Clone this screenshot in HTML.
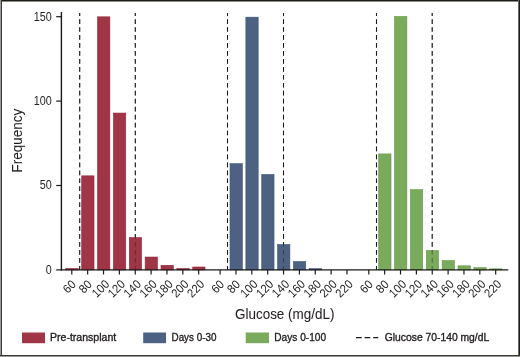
<!DOCTYPE html>
<html><head><meta charset="utf-8"><title>Glucose histogram</title>
<style>
html,body{margin:0;padding:0;background:#fff;}
svg{display:block;}
text{font-family:"Liberation Sans",sans-serif;fill:#231f20;stroke:#231f20;stroke-width:0.2px;}
.t{font-size:12.1px;stroke-width:0;}
.T{font-size:14.0px;stroke-width:0.05px;}
.L{font-size:10.7px;stroke-width:0.35px;}
</style></head><body>
<svg width="520" height="357" viewBox="0 0 520 357">
<rect x="0" y="0" width="520" height="357" fill="#fff"/>
<line x1="79.70" y1="12.9" x2="79.70" y2="269.90" stroke="#1c191a" stroke-width="1.05" stroke-dasharray="4.7 3.26" stroke-dashoffset="1.66" opacity="1"/>
<line x1="135.30" y1="12.9" x2="135.30" y2="269.90" stroke="#1c191a" stroke-width="1.05" stroke-dasharray="4.7 3.26" stroke-dashoffset="1.66" opacity="1"/>
<line x1="227.50" y1="12.9" x2="227.50" y2="269.90" stroke="#1c191a" stroke-width="1.05" stroke-dasharray="4.7 3.26" stroke-dashoffset="1.66" opacity="1"/>
<line x1="283.50" y1="12.9" x2="283.50" y2="269.90" stroke="#1c191a" stroke-width="1.05" stroke-dasharray="4.7 3.26" stroke-dashoffset="1.66" opacity="1"/>
<line x1="376.50" y1="12.9" x2="376.50" y2="269.90" stroke="#1c191a" stroke-width="1.05" stroke-dasharray="4.7 3.26" stroke-dashoffset="1.66" opacity="1"/>
<line x1="432.20" y1="12.9" x2="432.20" y2="269.90" stroke="#1c191a" stroke-width="1.05" stroke-dasharray="4.7 3.26" stroke-dashoffset="1.66" opacity="1"/>
<rect x="65.85" y="268.51" width="12.30" height="1.39" fill="#A03545" stroke="#93263a" stroke-width="0.6"/>
<rect x="81.71" y="175.84" width="12.30" height="94.06" fill="#A03545" stroke="#93263a" stroke-width="0.6"/>
<rect x="97.57" y="16.83" width="12.30" height="253.07" fill="#A03545" stroke="#93263a" stroke-width="0.6"/>
<rect x="113.43" y="113.05" width="12.30" height="156.85" fill="#A03545" stroke="#93263a" stroke-width="0.6"/>
<rect x="129.29" y="237.62" width="12.30" height="32.28" fill="#A03545" stroke="#93263a" stroke-width="0.6"/>
<rect x="145.15" y="257.03" width="12.30" height="12.87" fill="#A03545" stroke="#93263a" stroke-width="0.6"/>
<rect x="161.01" y="265.30" width="12.30" height="4.60" fill="#A03545" stroke="#93263a" stroke-width="0.6"/>
<rect x="176.87" y="268.51" width="12.30" height="1.39" fill="#A03545" stroke="#93263a" stroke-width="0.6"/>
<rect x="192.73" y="266.99" width="12.30" height="2.91" fill="#A03545" stroke="#93263a" stroke-width="0.6"/>
<rect x="230.01" y="163.69" width="12.30" height="106.21" fill="#4D6282" stroke="#3d5474" stroke-width="0.6"/>
<rect x="245.87" y="17.17" width="12.30" height="252.73" fill="#4D6282" stroke="#3d5474" stroke-width="0.6"/>
<rect x="261.73" y="174.49" width="12.30" height="95.41" fill="#4D6282" stroke="#3d5474" stroke-width="0.6"/>
<rect x="277.59" y="244.54" width="12.30" height="25.36" fill="#4D6282" stroke="#3d5474" stroke-width="0.6"/>
<rect x="293.45" y="261.59" width="12.30" height="8.31" fill="#4D6282" stroke="#3d5474" stroke-width="0.6"/>
<rect x="309.31" y="268.68" width="12.30" height="1.22" fill="#4D6282" stroke="#3d5474" stroke-width="0.6"/>
<rect x="378.71" y="153.90" width="12.30" height="116.00" fill="#7AAA5C" stroke="#629a42" stroke-width="0.6"/>
<rect x="394.57" y="16.49" width="12.30" height="253.41" fill="#7AAA5C" stroke="#629a42" stroke-width="0.6"/>
<rect x="410.43" y="189.68" width="12.30" height="80.22" fill="#7AAA5C" stroke="#629a42" stroke-width="0.6"/>
<rect x="426.29" y="250.62" width="12.30" height="19.28" fill="#7AAA5C" stroke="#629a42" stroke-width="0.6"/>
<rect x="442.15" y="260.58" width="12.30" height="9.32" fill="#7AAA5C" stroke="#629a42" stroke-width="0.6"/>
<rect x="458.01" y="265.81" width="12.30" height="4.09" fill="#7AAA5C" stroke="#629a42" stroke-width="0.6"/>
<rect x="473.87" y="267.67" width="12.30" height="2.23" fill="#7AAA5C" stroke="#629a42" stroke-width="0.6"/>
<rect x="489.73" y="268.85" width="12.30" height="1.05" fill="#7AAA5C" stroke="#629a42" stroke-width="0.6"/>
<line x1="79.70" y1="12.9" x2="79.70" y2="269.90" stroke="#1c191a" stroke-width="1.05" stroke-dasharray="4.7 3.26" stroke-dashoffset="1.66" opacity="0.45"/>
<line x1="135.30" y1="12.9" x2="135.30" y2="269.90" stroke="#1c191a" stroke-width="1.05" stroke-dasharray="4.7 3.26" stroke-dashoffset="1.66" opacity="0.45"/>
<line x1="227.50" y1="12.9" x2="227.50" y2="269.90" stroke="#1c191a" stroke-width="1.05" stroke-dasharray="4.7 3.26" stroke-dashoffset="1.66" opacity="0.45"/>
<line x1="283.50" y1="12.9" x2="283.50" y2="269.90" stroke="#1c191a" stroke-width="1.05" stroke-dasharray="4.7 3.26" stroke-dashoffset="1.66" opacity="0.45"/>
<line x1="376.50" y1="12.9" x2="376.50" y2="269.90" stroke="#1c191a" stroke-width="1.05" stroke-dasharray="4.7 3.26" stroke-dashoffset="1.66" opacity="0.45"/>
<line x1="432.20" y1="12.9" x2="432.20" y2="269.90" stroke="#1c191a" stroke-width="1.05" stroke-dasharray="4.7 3.26" stroke-dashoffset="1.66" opacity="0.45"/>
<line x1="61.4" y1="12.1" x2="61.4" y2="270.60" stroke="#1c191a" stroke-width="1.4"/>
<line x1="60.699999999999996" y1="269.9" x2="508.3" y2="269.9" stroke="#1c191a" stroke-width="1.4"/>
<line x1="56.2" y1="269.90" x2="61.4" y2="269.90" stroke="#1c191a" stroke-width="1.2"/>
<text class="t" x="51.7" y="273.70" text-anchor="end" textLength="6.0" lengthAdjust="spacingAndGlyphs">0</text>
<line x1="56.2" y1="185.50" x2="61.4" y2="185.50" stroke="#1c191a" stroke-width="1.2"/>
<text class="t" x="51.7" y="189.30" text-anchor="end" textLength="12.0" lengthAdjust="spacingAndGlyphs">50</text>
<line x1="56.2" y1="101.10" x2="61.4" y2="101.10" stroke="#1c191a" stroke-width="1.2"/>
<text class="t" x="51.7" y="104.90" text-anchor="end" textLength="18.0" lengthAdjust="spacingAndGlyphs">100</text>
<line x1="56.2" y1="16.70" x2="61.4" y2="16.70" stroke="#1c191a" stroke-width="1.2"/>
<text class="t" x="51.7" y="20.50" text-anchor="end" textLength="18.0" lengthAdjust="spacingAndGlyphs">150</text>
<line x1="71.80" y1="269.9" x2="71.80" y2="274.5" stroke="#1c191a" stroke-width="1.2"/>
<text class="t" transform="translate(76.70 285.10) rotate(-45)" text-anchor="end" textLength="12.5" lengthAdjust="spacingAndGlyphs">60</text>
<line x1="87.66" y1="269.9" x2="87.66" y2="274.5" stroke="#1c191a" stroke-width="1.2"/>
<text class="t" transform="translate(92.56 285.10) rotate(-45)" text-anchor="end" textLength="12.5" lengthAdjust="spacingAndGlyphs">80</text>
<line x1="103.52" y1="269.9" x2="103.52" y2="274.5" stroke="#1c191a" stroke-width="1.2"/>
<text class="t" transform="translate(110.12 284.90) rotate(-45)" text-anchor="end" textLength="18.8" lengthAdjust="spacingAndGlyphs">100</text>
<line x1="119.38" y1="269.9" x2="119.38" y2="274.5" stroke="#1c191a" stroke-width="1.2"/>
<text class="t" transform="translate(125.98 284.90) rotate(-45)" text-anchor="end" textLength="18.8" lengthAdjust="spacingAndGlyphs">120</text>
<line x1="135.24" y1="269.9" x2="135.24" y2="274.5" stroke="#1c191a" stroke-width="1.2"/>
<text class="t" transform="translate(141.84 284.90) rotate(-45)" text-anchor="end" textLength="18.8" lengthAdjust="spacingAndGlyphs">140</text>
<line x1="151.10" y1="269.9" x2="151.10" y2="274.5" stroke="#1c191a" stroke-width="1.2"/>
<text class="t" transform="translate(157.70 284.90) rotate(-45)" text-anchor="end" textLength="18.8" lengthAdjust="spacingAndGlyphs">160</text>
<line x1="166.96" y1="269.9" x2="166.96" y2="274.5" stroke="#1c191a" stroke-width="1.2"/>
<text class="t" transform="translate(173.56 284.90) rotate(-45)" text-anchor="end" textLength="18.8" lengthAdjust="spacingAndGlyphs">180</text>
<line x1="182.82" y1="269.9" x2="182.82" y2="274.5" stroke="#1c191a" stroke-width="1.2"/>
<text class="t" transform="translate(189.42 284.90) rotate(-45)" text-anchor="end" textLength="18.8" lengthAdjust="spacingAndGlyphs">200</text>
<line x1="198.68" y1="269.9" x2="198.68" y2="274.5" stroke="#1c191a" stroke-width="1.2"/>
<text class="t" transform="translate(205.28 284.90) rotate(-45)" text-anchor="end" textLength="18.8" lengthAdjust="spacingAndGlyphs">220</text>
<line x1="220.10" y1="269.9" x2="220.10" y2="274.5" stroke="#1c191a" stroke-width="1.2"/>
<text class="t" transform="translate(225.00 285.10) rotate(-45)" text-anchor="end" textLength="12.5" lengthAdjust="spacingAndGlyphs">60</text>
<line x1="235.96" y1="269.9" x2="235.96" y2="274.5" stroke="#1c191a" stroke-width="1.2"/>
<text class="t" transform="translate(240.86 285.10) rotate(-45)" text-anchor="end" textLength="12.5" lengthAdjust="spacingAndGlyphs">80</text>
<line x1="251.82" y1="269.9" x2="251.82" y2="274.5" stroke="#1c191a" stroke-width="1.2"/>
<text class="t" transform="translate(258.42 284.90) rotate(-45)" text-anchor="end" textLength="18.8" lengthAdjust="spacingAndGlyphs">100</text>
<line x1="267.68" y1="269.9" x2="267.68" y2="274.5" stroke="#1c191a" stroke-width="1.2"/>
<text class="t" transform="translate(274.28 284.90) rotate(-45)" text-anchor="end" textLength="18.8" lengthAdjust="spacingAndGlyphs">120</text>
<line x1="283.54" y1="269.9" x2="283.54" y2="274.5" stroke="#1c191a" stroke-width="1.2"/>
<text class="t" transform="translate(290.14 284.90) rotate(-45)" text-anchor="end" textLength="18.8" lengthAdjust="spacingAndGlyphs">140</text>
<line x1="299.40" y1="269.9" x2="299.40" y2="274.5" stroke="#1c191a" stroke-width="1.2"/>
<text class="t" transform="translate(306.00 284.90) rotate(-45)" text-anchor="end" textLength="18.8" lengthAdjust="spacingAndGlyphs">160</text>
<line x1="315.26" y1="269.9" x2="315.26" y2="274.5" stroke="#1c191a" stroke-width="1.2"/>
<text class="t" transform="translate(321.86 284.90) rotate(-45)" text-anchor="end" textLength="18.8" lengthAdjust="spacingAndGlyphs">180</text>
<line x1="331.12" y1="269.9" x2="331.12" y2="274.5" stroke="#1c191a" stroke-width="1.2"/>
<text class="t" transform="translate(337.72 284.90) rotate(-45)" text-anchor="end" textLength="18.8" lengthAdjust="spacingAndGlyphs">200</text>
<line x1="346.98" y1="269.9" x2="346.98" y2="274.5" stroke="#1c191a" stroke-width="1.2"/>
<text class="t" transform="translate(353.58 284.90) rotate(-45)" text-anchor="end" textLength="18.8" lengthAdjust="spacingAndGlyphs">220</text>
<line x1="368.80" y1="269.9" x2="368.80" y2="274.5" stroke="#1c191a" stroke-width="1.2"/>
<text class="t" transform="translate(373.70 285.10) rotate(-45)" text-anchor="end" textLength="12.5" lengthAdjust="spacingAndGlyphs">60</text>
<line x1="384.66" y1="269.9" x2="384.66" y2="274.5" stroke="#1c191a" stroke-width="1.2"/>
<text class="t" transform="translate(389.56 285.10) rotate(-45)" text-anchor="end" textLength="12.5" lengthAdjust="spacingAndGlyphs">80</text>
<line x1="400.52" y1="269.9" x2="400.52" y2="274.5" stroke="#1c191a" stroke-width="1.2"/>
<text class="t" transform="translate(407.12 284.90) rotate(-45)" text-anchor="end" textLength="18.8" lengthAdjust="spacingAndGlyphs">100</text>
<line x1="416.38" y1="269.9" x2="416.38" y2="274.5" stroke="#1c191a" stroke-width="1.2"/>
<text class="t" transform="translate(422.98 284.90) rotate(-45)" text-anchor="end" textLength="18.8" lengthAdjust="spacingAndGlyphs">120</text>
<line x1="432.24" y1="269.9" x2="432.24" y2="274.5" stroke="#1c191a" stroke-width="1.2"/>
<text class="t" transform="translate(438.84 284.90) rotate(-45)" text-anchor="end" textLength="18.8" lengthAdjust="spacingAndGlyphs">140</text>
<line x1="448.10" y1="269.9" x2="448.10" y2="274.5" stroke="#1c191a" stroke-width="1.2"/>
<text class="t" transform="translate(454.70 284.90) rotate(-45)" text-anchor="end" textLength="18.8" lengthAdjust="spacingAndGlyphs">160</text>
<line x1="463.96" y1="269.9" x2="463.96" y2="274.5" stroke="#1c191a" stroke-width="1.2"/>
<text class="t" transform="translate(470.56 284.90) rotate(-45)" text-anchor="end" textLength="18.8" lengthAdjust="spacingAndGlyphs">180</text>
<line x1="479.82" y1="269.9" x2="479.82" y2="274.5" stroke="#1c191a" stroke-width="1.2"/>
<text class="t" transform="translate(486.42 284.90) rotate(-45)" text-anchor="end" textLength="18.8" lengthAdjust="spacingAndGlyphs">200</text>
<line x1="495.68" y1="269.9" x2="495.68" y2="274.5" stroke="#1c191a" stroke-width="1.2"/>
<text class="t" transform="translate(502.28 284.90) rotate(-45)" text-anchor="end" textLength="18.8" lengthAdjust="spacingAndGlyphs">220</text>
<text class="T" x="235.0" y="318.9" textLength="99.4" lengthAdjust="spacingAndGlyphs">Glucose (mg/dL)</text>
<text class="T" transform="translate(22.2 172.4) rotate(-90)" textLength="63.6" lengthAdjust="spacingAndGlyphs">Frequency</text>
<rect x="22" y="332.5" width="23" height="10.7" fill="#A03545"/>
<text class="L" x="50" y="341.3" textLength="66.2" lengthAdjust="spacingAndGlyphs">Pre-transplant</text>
<rect x="143.2" y="332.5" width="22.8" height="10.7" fill="#4D6282"/>
<text class="L" x="171.5" y="341.3" textLength="45" lengthAdjust="spacingAndGlyphs">Days 0-30</text>
<rect x="245.7" y="332.5" width="23.3" height="10.7" fill="#7AAA5C"/>
<text class="L" x="274.3" y="341.3" textLength="51.8" lengthAdjust="spacingAndGlyphs">Days 0-100</text>
<line x1="356" y1="337.7" x2="378.3" y2="337.7" stroke="#1c191a" stroke-width="1.25" stroke-dasharray="5.7 2.9"/>
<text class="L" x="384.8" y="341.3" textLength="104.4" lengthAdjust="spacingAndGlyphs">Glucose 70-140 mg/dL</text>
<rect x="0" y="0" width="520" height="1" fill="#1e1e18"/>
<rect x="0" y="1" width="520" height="1" fill="#8a8a86"/>
<rect x="519" y="0" width="1" height="357" fill="#1e1e18"/>
<rect x="518" y="0" width="1" height="357" fill="#6a6a66"/>
<rect x="0" y="0" width="1" height="357" fill="#9a9a98"/>
<rect x="1" y="0" width="1" height="357" fill="#3a3a35"/>
<rect x="0" y="356" width="520" height="1" fill="#9a9a98"/>
<rect x="0" y="355" width="520" height="1" fill="#3a3a35"/>
</svg>
</body></html>
